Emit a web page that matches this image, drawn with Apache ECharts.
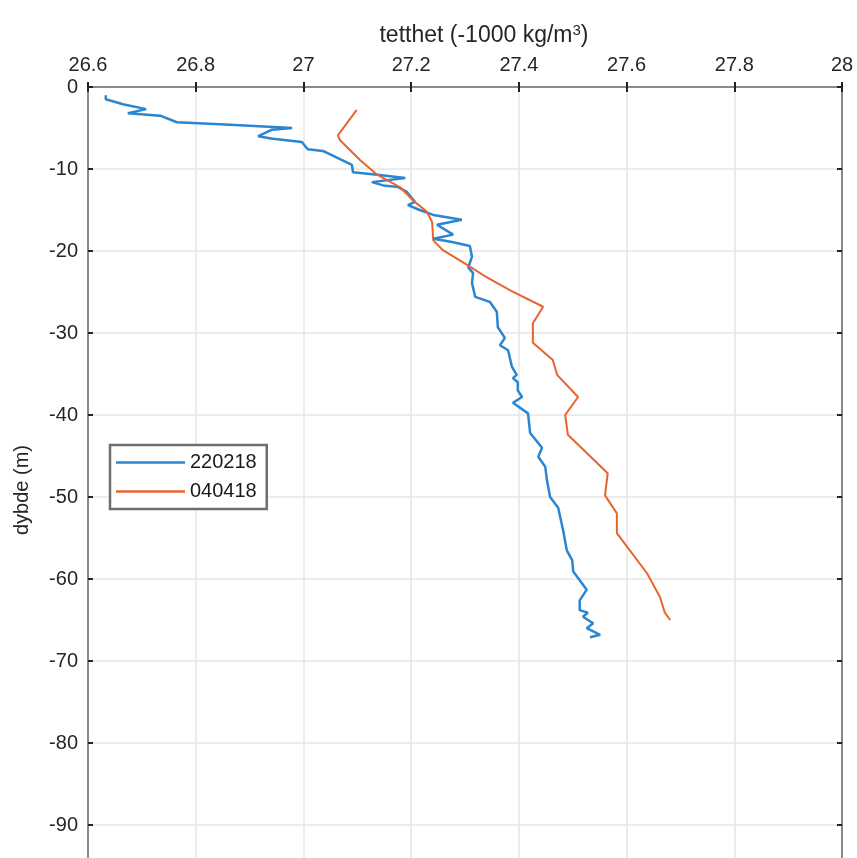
<!DOCTYPE html>
<html>
<head>
<meta charset="utf-8">
<script src="https://cdn.jsdelivr.net/npm/echarts@6/dist/echarts.min.js"></script>
<style>
  html, body { margin: 0; padding: 0; background: #fff; }
  #chart { width: 857px; height: 858px; }
</style>
</head>
<body>
<div id="chart"></div>
<script>
// 220218 profil
const depth1 = [-1.0, -1.5, -2.1, -2.7, -3.2, -3.5, -4.3, -4.6, -5.0, -5.2, -6.0, -6.3, -6.7, -7.6, -7.8, -7.9,
  -8.8, -9.5, -10.4, -10.7, -11.1, -11.6, -12.0, -12.2, -12.8, -14.0, -14.4, -15.0, -15.6, -16.2, -16.8,
  -18.0, -18.5, -18.9, -19.4, -20.7, -22.0, -22.7, -23.9, -25.6, -26.2, -27.4, -29.3, -30.6, -31.5, -32.1,
  -34.1, -35.1, -35.5, -36.0, -37.0, -37.8, -38.5, -39.8, -42.2, -44.0, -45.1, -46.3, -47.9, -50.0, -51.3,
  -54.0, -56.5, -57.7, -59.1, -61.3, -62.6, -63.8, -64.1, -64.6, -65.4, -66.0, -66.8, -67.1];
const density1 = [26.633, 26.633, 26.665, 26.708, 26.674, 26.734, 26.765, 26.864, 26.979, 26.942, 26.916, 26.943, 26.997, 27.008, 27.036, 27.040,
  27.068, 27.090, 27.092, 27.137, 27.189, 27.127, 27.148, 27.176, 27.192, 27.207, 27.194, 27.216, 27.241, 27.294, 27.248,
  27.278, 27.241, 27.276, 27.309, 27.313, 27.306, 27.315, 27.313, 27.319, 27.346, 27.359, 27.361, 27.374, 27.365, 27.380,
  27.387, 27.396, 27.389, 27.398, 27.398, 27.406, 27.389, 27.417, 27.421, 27.443, 27.436, 27.449, 27.452, 27.458, 27.473,
  27.482, 27.489, 27.499, 27.501, 27.526, 27.513, 27.513, 27.528, 27.519, 27.538, 27.526, 27.551, 27.532];

// 040418 profil
const depth2 = [-2.8, -5.9, -6.5, -8.9, -10.7, -12.2, -13.8, -15.2, -16.5, -18.7, -19.9, -21.7, -23.2, -24.8, -26.8,
  -28.8, -31.2, -33.3, -35.1, -37.8, -40.0, -42.4, -47.1, -49.8, -52.0, -54.4, -56.5, -59.3, -62.2, -64.1, -65.0];
const density2 = [27.099, 27.064, 27.068, 27.105, 27.137, 27.179, 27.203, 27.229, 27.239, 27.241, 27.259, 27.304, 27.340, 27.384, 27.445,
  27.426, 27.426, 27.463, 27.471, 27.510, 27.486, 27.491, 27.565, 27.560, 27.582, 27.582, 27.606, 27.638, 27.662, 27.671, 27.681];

const seriesNames = ['220218', '040418'];

const chart = echarts.init(document.getElementById('chart'));

const pairs = (xs, ys) => xs.map((x, i) => [x, ys[i]]);
const font = 'Liberation Sans, Arial, sans-serif';
const txt = '#262626';
const boxLine = { show: true, lineStyle: { color: '#8a8a8a', width: 2 } };
const ticks = { show: true, inside: true, length: 5, lineStyle: { color: '#222', width: 2 } };

const option = {
  animation: false,
  title: {
    text: 'tetthet (-1000 kg/m{s|3})',
    left: 479,
    top: 18,
    textAlign: 'center',
    textStyle: {
      fontFamily: font, fontSize: 23, fontWeight: 'normal', color: txt,
      rich: { s: { fontFamily: font, fontSize: 15, color: txt, verticalAlign: 'top', padding: [0, 0, 10, 0] } }
    }
  },
  graphic: [{
    type: 'text',
    x: 22, y: 490,
    rotation: Math.PI / 2,
    style: {
      text: 'dybde (m)', fontFamily: font, fontSize: 20, fill: txt,
      textAlign: 'center', textVerticalAlign: 'middle'
    }
  }],
  // plot box runs past the bottom edge of the window, like the original
  grid: { left: 88, right: 15, top: 87, height: 820, outerBoundsMode: 'none', containLabel: false },
  legend: {
    orient: 'vertical',
    left: 110, top: 445,
    icon: 'rect',
    itemWidth: 69, itemHeight: 2.5, itemGap: 8,
    padding: [7, 10, 7, 6],
    borderColor: '#6e6e6e', borderWidth: 2.5,
    backgroundColor: '#fff',
    textStyle: { fontFamily: font, fontSize: 20, color: '#1a1a1a', lineHeight: 21 },
    data: seriesNames
  },
  xAxis: [{
    type: 'value', position: 'top', min: 26.6, max: 28, interval: 0.2,
    axisLine: boxLine, axisTick: ticks,
    axisLabel: { fontFamily: font, fontSize: 20, color: txt, margin: 12 },
    splitLine: { show: true, lineStyle: { color: '#e6e6e6', width: 1.5 } }
  }, {
    type: 'value', position: 'bottom', min: 26.6, max: 28, interval: 0.2,
    axisLine: boxLine, axisTick: ticks,
    axisLabel: { show: false }, splitLine: { show: false }
  }],
  yAxis: [{
    type: 'value', min: -100, max: 0, interval: 10,
    axisLine: boxLine, axisTick: ticks,
    axisLabel: { fontFamily: font, fontSize: 20, color: txt, margin: 10 },
    splitLine: { show: true, lineStyle: { color: '#e6e6e6', width: 1.5 } }
  }, {
    type: 'value', position: 'right', min: -100, max: 0, interval: 10,
    axisLine: boxLine, axisTick: ticks,
    axisLabel: { show: false }, splitLine: { show: false }
  }],
  series: [{
    name: seriesNames[0], type: 'line', symbol: 'none',
    data: pairs(density1, depth1),
    lineStyle: { color: '#2a86d1', width: 2.5 }, itemStyle: { color: '#2a86d1' }
  }, {
    name: seriesNames[1], type: 'line', symbol: 'none',
    data: pairs(density2, depth2),
    lineStyle: { color: '#e8642d', width: 2 }, itemStyle: { color: '#e8642d' }
  }]
};

chart.setOption(option);
</script>
</body>
</html>
